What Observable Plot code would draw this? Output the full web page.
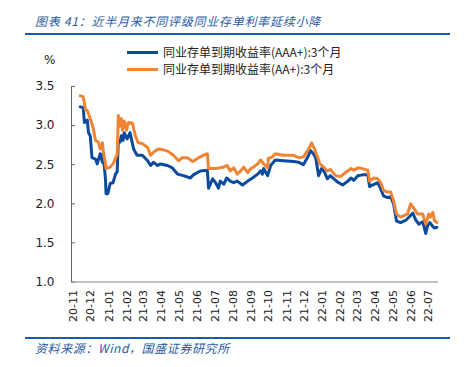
<!DOCTYPE html>
<html><head><meta charset="utf-8">
<script src="https://cdn.jsdelivr.net/npm/d3@7"></script>
<script src="https://cdn.jsdelivr.net/npm/@observablehq/plot@0.6"></script>
<style>
body{margin:0;background:#fff;}
#wrap{position:relative;width:464px;height:367px;overflow:hidden;font-family:"Noto Sans CJK SC",sans-serif;}
#chart{position:absolute;left:0;top:0;}
.title{position:absolute;left:35px;top:12px;font-size:12px;font-style:italic;color:#2a5aa5;white-space:nowrap;letter-spacing:0.75px;}
.rule{position:absolute;left:25px;width:425px;height:2px;background:#1f5aa6;}
.legend{position:absolute;left:127px;font-size:12px;color:#222;white-space:nowrap;line-height:14px;}
.legend i{display:inline-block;width:31px;height:3px;vertical-align:middle;margin-right:5px;position:relative;top:-1px;}
.unit{position:absolute;left:44px;top:53px;font-size:12px;color:#222;font-family:"DejaVu Sans",sans-serif;}
.source{position:absolute;left:35px;top:339px;font-size:12px;font-style:italic;color:#2a5aa5;white-space:nowrap;letter-spacing:0.6px;}
</style></head><body>
<div id="wrap">
<div id="chart"></div>
<div class="title">图表 41：近半月来不同评级同业存单利率延续小降</div>
<div class="rule" style="top:33px"></div>
<div class="legend" style="top:45px"><i style="background:#0b4a9e"></i>同业存单到期收益率(AAA+):3个月</div>
<div class="legend" style="top:62px"><i style="background:#ef8534"></i>同业存单到期收益率(AA+):3个月</div>
<div class="unit">%</div>
<div class="rule" style="top:337px"></div>
<div class="source">资料来源：Wind，国盛证券研究所</div>
</div>
<script>
const seriesNames = ["同业存单到期收益率(AAA+):3个月", "同业存单到期收益率(AA+):3个月"];
const seriesColors = ["#0b4a9e", "#ef8534"];

const aaaDates = ["2020-11-13","2020-11-18","2020-11-20","2020-11-25","2020-11-27","2020-11-30","2020-12-03","2020-12-09","2020-12-12","2020-12-17","2020-12-21","2020-12-22","2020-12-26","2020-12-27","2020-12-30","2021-01-03","2021-01-08","2021-01-12","2021-01-15","2021-01-17","2021-01-20","2021-01-22","2021-01-25","2021-01-27","2021-02-01","2021-02-06","2021-02-12","2021-02-18","2021-02-27","2021-03-08","2021-03-13","2021-03-18","2021-03-25","2021-03-30","2021-04-11","2021-04-19","2021-04-28","2021-05-08","2021-05-20","2021-05-25","2021-06-06","2021-06-18","2021-06-20","2021-06-27","2021-07-02","2021-07-07","2021-07-10","2021-07-16","2021-07-21","2021-07-27","2021-08-02","2021-08-08","2021-08-17","2021-08-26","2021-09-03","2021-09-12","2021-09-17","2021-09-20","2021-09-22","2021-09-29","2021-10-04","2021-10-12","2021-10-26","2021-11-12","2021-11-21","2021-11-29","2021-12-08","2021-12-11","2021-12-16","2021-12-20","2021-12-25","2021-12-30","2022-01-03","2022-01-09","2022-01-14","2022-01-20","2022-01-26","2022-02-04","2022-02-13","2022-02-18","2022-02-23","2022-03-02","2022-03-10","2022-03-19","2022-03-22","2022-03-27","2022-04-05","2022-04-10","2022-04-15","2022-04-22","2022-04-27","2022-05-02","2022-05-07","2022-05-14","2022-05-23","2022-05-31","2022-06-04","2022-06-09","2022-06-14","2022-06-21","2022-06-26","2022-06-29","2022-07-03","2022-07-08","2022-07-11","2022-07-15"];
const aaaValues = [3.24,3.23,3.04,3.07,2.91,2.87,2.59,2.57,2.51,2.64,2.53,2.64,2.32,2.13,2.13,2.26,2.27,2.38,2.41,2.81,2.79,2.87,2.81,2.91,2.83,2.91,2.70,2.62,2.62,2.55,2.49,2.53,2.49,2.51,2.49,2.46,2.38,2.36,2.33,2.37,2.42,2.43,2.20,2.32,2.27,2.20,2.29,2.25,2.33,2.29,2.27,2.29,2.24,2.29,2.33,2.38,2.42,2.38,2.45,2.36,2.49,2.56,2.55,2.54,2.53,2.50,2.62,2.68,2.64,2.59,2.36,2.45,2.42,2.32,2.36,2.32,2.28,2.24,2.29,2.33,2.30,2.36,2.37,2.37,2.22,2.24,2.27,2.19,2.10,2.08,2.09,2.00,1.78,1.76,1.79,1.85,1.88,1.79,1.74,1.77,1.62,1.72,1.76,1.71,1.69,1.70];

const aaDates = ["2020-11-13","2020-11-18","2020-11-22","2020-11-25","2020-11-30","2020-12-05","2020-12-09","2020-12-14","2020-12-17","2020-12-21","2020-12-22","2020-12-26","2020-12-27","2021-01-03","2021-01-08","2021-01-12","2021-01-15","2021-01-17","2021-01-19","2021-01-22","2021-01-24","2021-01-27","2021-01-31","2021-02-03","2021-02-10","2021-02-15","2021-02-20","2021-02-27","2021-03-08","2021-03-13","2021-03-18","2021-03-26","2021-04-04","2021-04-12","2021-04-21","2021-04-30","2021-05-06","2021-05-15","2021-05-24","2021-06-01","2021-06-11","2021-06-18","2021-06-20","2021-07-02","2021-07-16","2021-07-22","2021-07-27","2021-08-02","2021-08-08","2021-08-14","2021-08-19","2021-08-26","2021-08-31","2021-09-05","2021-09-12","2021-09-17","2021-09-22","2021-09-29","2021-09-30","2021-10-07","2021-10-12","2021-10-26","2021-11-12","2021-11-21","2021-11-29","2021-12-08","2021-12-13","2021-12-18","2021-12-23","2021-12-27","2022-01-01","2022-01-09","2022-01-14","2022-01-23","2022-02-01","2022-02-09","2022-02-18","2022-02-23","2022-03-02","2022-03-10","2022-03-19","2022-03-22","2022-03-29","2022-04-05","2022-04-10","2022-04-15","2022-04-22","2022-04-27","2022-05-02","2022-05-07","2022-05-14","2022-05-26","2022-05-31","2022-06-04","2022-06-12","2022-06-21","2022-06-23","2022-06-26","2022-07-01","2022-07-04","2022-07-08","2022-07-11","2022-07-15"];
const aaValues = [3.38,3.37,3.20,3.19,3.09,2.97,2.81,2.79,2.70,2.78,2.68,2.51,2.45,2.47,2.51,2.58,2.63,3.13,2.99,3.09,2.94,3.06,2.94,3.04,3.03,2.87,2.78,2.77,2.72,2.62,2.66,2.70,2.69,2.67,2.62,2.55,2.59,2.59,2.54,2.58,2.62,2.64,2.45,2.45,2.47,2.49,2.42,2.46,2.38,2.42,2.47,2.40,2.45,2.47,2.51,2.56,2.51,2.46,2.58,2.60,2.64,2.62,2.62,2.59,2.60,2.70,2.78,2.70,2.60,2.51,2.48,2.42,2.44,2.36,2.35,2.40,2.45,2.43,2.46,2.45,2.43,2.29,2.33,2.32,2.27,2.17,2.15,2.15,2.04,1.87,1.83,1.87,2.00,1.96,1.87,1.87,1.81,1.74,1.87,1.83,1.89,1.78,1.76];

const xTickDates = ["2020-11-01","2020-12-01","2021-01-01","2021-02-01","2021-03-01","2021-04-01","2021-05-01","2021-06-01","2021-07-01","2021-08-01","2021-09-01","2021-10-01","2021-11-01","2021-12-01","2022-01-01","2022-02-01","2022-03-01","2022-04-01","2022-05-01","2022-06-01","2022-07-01"];
const xTickLabels = ["20-11","20-12","21-01","21-02","21-03","21-04","21-05","21-06","21-07","21-08","21-09","21-10","21-11","21-12","22-01","22-02","22-03","22-04","22-05","22-06","22-07"];
const yTicks = [1.0, 1.5, 2.0, 2.5, 3.0, 3.5];
const xDomain = ["2020-10-29", "2022-07-16"];

const parse = d3.utcParse("%Y-%m-%d");
const data = [
  ...aaaDates.map((d, i) => ({date: parse(d), value: aaaValues[i], series: seriesNames[0]})),
  ...aaDates.map((d, i) => ({date: parse(d), value: aaValues[i], series: seriesNames[1]}))
];
const tickDates = xTickDates.map(parse);

const chart = Plot.plot({
  width: 464,
  height: 367,
  marginTop: 86,
  marginBottom: 85.5,
  marginLeft: 71,
  marginRight: 27,
  style: {fontFamily: "DejaVu Sans, sans-serif", fontSize: "11px", color: "#222", background: "transparent"},
  x: {type: "utc", domain: xDomain.map(parse), label: null},
  y: {domain: [1, 3.5], label: null},
  color: {domain: seriesNames, range: seriesColors},
  marks: [
    Plot.axisY({ticks: yTicks, tickFormat: d3.format(".1f"), tickSize: 0, tickPadding: 17, fontSize: 12, label: null}),
    Plot.tickY(yTicks, {y: d => d, stroke: "#666", insetRight: 362}),
    Plot.axisX({ticks: tickDates, tickFormat: (d, i) => xTickLabels[i], tickRotate: -90, tickSize: 0, tickPadding: 8, fontSize: 11, label: null}),
    Plot.frame({anchor: "left", stroke: "#666"}),
    Plot.frame({anchor: "bottom", stroke: "#888"}),
    Plot.line(data, {x: "date", y: "value", z: "series", stroke: "series", strokeWidth: 3, strokeLinejoin: "round"})
  ]
});
document.getElementById("chart").appendChild(chart);
</script>
</body></html>
